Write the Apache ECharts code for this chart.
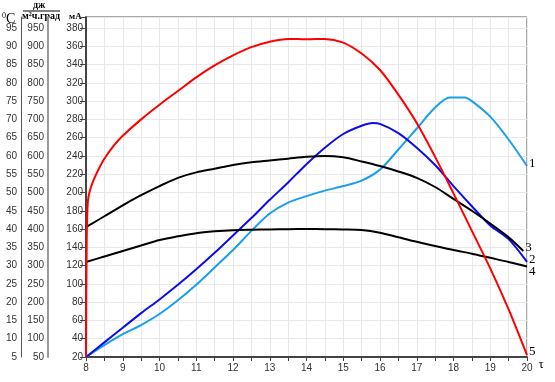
<!DOCTYPE html>
<html><head><meta charset="utf-8">
<script src="https://cdn.jsdelivr.net/npm/echarts@6/dist/echarts.min.js"></script>
<style>html,body{margin:0;padding:0;background:#fff}#c{width:555px;height:382px}</style>
</head><body><div id="c"></div>
<script>
// time axis (τ) and values read on the mA scale
const s1x = [8,8.5,9,9.5,10,10.5,11,11.5,12,12.5,13,13.5,14,14.5,15,15.5,16,16.5,17,17.5,17.9,18.3,18.5,19,19.5,20];
const s1y = [20,33,45,55,67,82,99,118,137,158,177,189,196,202,207,213,225,247,270,293,304,304,300,283,258,229];
const s2x = [8,8.5,9,9.5,10,10.5,11,11.5,12,12.5,13,13.5,14,14.5,15,15.5,15.8,16,16.5,17,17.5,18,18.5,19,19.5,20];
const s2y = [20,36,52,68,83,99,116,134,153,172,192,211,231,249,264,273,276,275,265,249,230,207,185,164,149,124];
const s3x = [8,8.5,9,9.5,10,10.5,11,11.5,12,12.5,13,13.5,14,14.5,15,15.5,16,16.5,17,17.5,18,18.5,19,19.5,19.9];
const s3y = [162,174,186,197,207,216,222,226,230,233,235,237,239,240,238.5,234,229,223,216,206,193,180,166,151,136];
const s4x = [8,8.5,9,9.5,10,10.5,11,11.5,12,12.5,13,13.5,14,14.5,15,15.5,16,16.5,17,17.5,18,18.5,19,19.5,20];
const s4y = [124,130,136,142,148,152,155.5,157.5,158.8,159.3,159.6,159.8,160,159.8,159.6,159,156,151,146,141.5,137,133,128.5,124,119];
const s5x = [8,8.02,8.05,8.1,8.2,8.35,8.5,8.75,9,9.5,10,10.5,11,11.5,12,12.5,13,13.5,14,14.5,15,15.5,16,16.5,17,17.5,18,18.5,19,19.5,20];
const s5y = [20,150,190,201,213,226,237,251,262,280,296,311,326,339,350,359,365,368,367.6,368,364,352,334,307,276,239,199,158,117,72,22];
const seriesNames = ['1','2','3','4','5'];
const xTicks = {min: 8, max: 20, step: 0.5};
const mA = {min: 20, max: 392, step: 20, lastLabel: 380};
const heat = {min: 50, max: 980, step: 50, lastLabel: 950};
const degC = {min: 5, max: 98, step: 5, lastLabel: 95};

const zip = (xs, ys) => xs.map((x, i) => [x, ys[i]]);
const chart = echarts.init(document.getElementById('c'), null, {renderer: 'canvas'});
const lab = {color: '#333', fontSize: 10, fontFamily: 'Liberation Sans, Arial, sans-serif'};
const colors = ['#1a9fef', '#0c0cee', '#000000', '#000000', '#ff0000'];
const endOff = [[0,-2],[0,-2],[0,-3],[0,5],[0,-4]];
const data = [zip(s1x,s1y), zip(s2x,s2y), zip(s3x,s3y), zip(s4x,s4y), zip(s5x,s5y)];

chart.setOption({
  animation: false,
  grid: {left: 86, right: 28, top: 17, bottom: 25, show: true, borderColor: '#555', borderWidth: 1},
  xAxis: {
    type: 'value', min: xTicks.min, max: xTicks.max, interval: xTicks.step,
    name: 'τ', nameLocation: 'end', nameGap: 10,
    nameTextStyle: {fontFamily: 'Liberation Serif, serif', fontSize: 13, color: '#000', verticalAlign: 'top', padding: [1,0,0,0]},
    axisLine: {lineStyle: {color: '#444', width: 2}},
    axisTick: {length: 4, lineStyle: {color: '#444'}},
    axisLabel: Object.assign({}, lab, {margin: 6, formatter: v => Number.isInteger(v) ? String(v) : ''}),
    splitLine: {show: true, lineStyle: {color: '#e8e8e8'}}
  },
  yAxis: [
    {
      type: 'value', min: mA.min, max: mA.max, interval: mA.step, position: 'left',
      axisLine: {show: true, lineStyle: {color: '#444', width: 2}},
      axisTick: {show: true, length: 6, lineStyle: {color: '#444'}},
      axisLabel: Object.assign({}, lab, {margin: 3, formatter: v => v <= mA.lastLabel ? String(v) : ''}),
      splitLine: {show: true, lineStyle: {color: '#e8e8e8'}}
    },
    {
      type: 'value', min: heat.min, max: heat.max, interval: heat.step, position: 'left', offset: 38,
      axisLine: {show: true, lineStyle: {color: '#999', width: 2}},
      axisTick: {show: false},
      axisLabel: Object.assign({}, lab, {margin: 4, formatter: v => v <= heat.lastLabel ? String(v) : ''}),
      splitLine: {show: false}
    },
    {
      type: 'value', min: degC.min, max: degC.max, interval: degC.step, position: 'left', offset: 65,
      axisLine: {show: true, lineStyle: {color: '#555', width: 1}},
      axisTick: {show: false},
      axisLabel: Object.assign({}, lab, {margin: 4, formatter: v => v <= degC.lastLabel ? String(v) : ''}),
      splitLine: {show: false}
    }
  ],
  graphic: [
    {type: 'text', left: 2, top: 12, style: {text: '{s|0}{c|C}', rich: {s: {fontSize: 8, fontFamily: 'Liberation Serif, serif', fill: '#000', verticalAlign: 'top', padding: [0,0,6,0]}, c: {fontSize: 14, fontFamily: 'Liberation Serif, serif', fill: '#000'}}}},
    {type: 'text', left: 33, top: 0, style: {text: 'дж', fontSize: 10, fontWeight: 'bold', fontFamily: 'Liberation Serif, serif', fill: '#000'}},
    {type: 'line', shape: {x1: 23, y1: 11, x2: 60, y2: 11}, style: {stroke: '#000', lineWidth: 1}},
    {type: 'text', left: 22, top: 11, style: {text: 'м²ч.град', fontSize: 10, fontWeight: 'bold', fontFamily: 'Liberation Serif, serif', fill: '#000'}},
    {type: 'text', left: 69, top: 12, style: {text: 'мА', fontSize: 9, fontWeight: 'bold', fontFamily: 'Liberation Serif, serif', fill: '#000'}}
  ],
  series: data.map((d, i) => ({
    type: 'line', name: seriesNames[i], data: d, yAxisIndex: 0,
    smooth: 0.3, showSymbol: false, symbol: 'none',
    lineStyle: {color: colors[i], width: 2},
    endLabel: {show: true, formatter: seriesNames[i], distance: 2, offset: endOff[i],
      fontFamily: 'Liberation Serif, serif', fontSize: 13, color: '#000'},
    z: i === 4 ? 3 : 2
  }))
});
</script></body></html>
